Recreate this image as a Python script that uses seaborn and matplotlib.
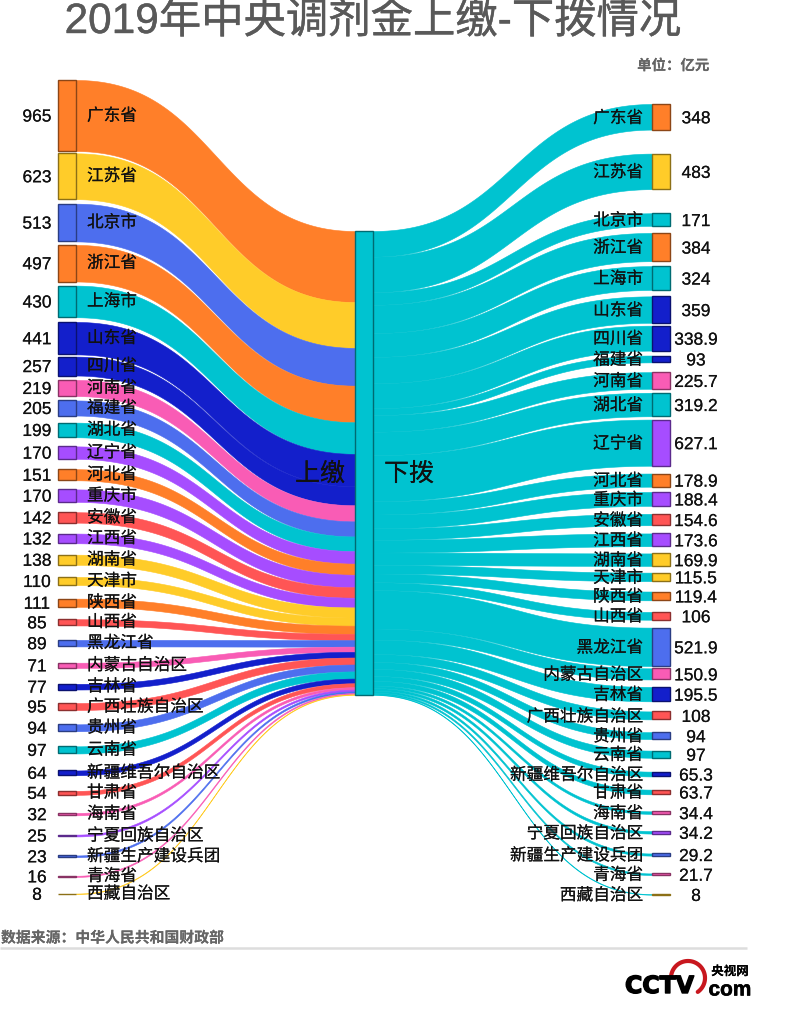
import numpy as np
import matplotlib
matplotlib.use("Agg")
import matplotlib.pyplot as plt
from matplotlib.patches import Rectangle
import matplotlib.patheffects as pe
import seaborn as sns

# 上缴 (left side), values in 亿元
up_names = ["广东省", "江苏省", "北京市", "浙江省", "上海市", "山东省", "四川省", "河南省",
            "福建省", "湖北省", "辽宁省", "河北省", "重庆市", "安徽省", "江西省", "湖南省",
            "天津市", "陕西省", "山西省", "黑龙江省", "内蒙古自治区", "吉林省", "广西壮族自治区", "贵州省",
            "云南省", "新疆维吾尔自治区", "甘肃省", "海南省", "宁夏回族自治区", "新疆生产建设兵团", "青海省", "西藏自治区"]
up_values = [965, 623, 513, 497, 430, 441, 257, 219, 205, 199, 170, 151, 170, 142, 132, 138,
             110, 111, 85, 89, 71, 77, 95, 94, 97, 64, 54, 32, 25, 23, 16, 8]
up_groups = ["orange", "yellow", "blue", "orange", "teal", "navy", "navy", "pink",
             "blue", "teal", "purple", "orange", "purple", "red", "purple", "yellow",
             "yellow", "orange", "red", "blue", "pink", "navy", "red", "blue",
             "teal", "navy", "red", "pink", "purple", "blue", "pink", "yellow"]

# 下拨 (right side), values in 亿元
down_names = ["广东省", "江苏省", "北京市", "浙江省", "上海市", "山东省", "四川省", "福建省",
              "河南省", "湖北省", "辽宁省", "河北省", "重庆市", "安徽省", "江西省", "湖南省",
              "天津市", "陕西省", "山西省", "黑龙江省", "内蒙古自治区", "吉林省", "广西壮族自治区", "贵州省",
              "云南省", "新疆维吾尔自治区", "甘肃省", "海南省", "宁夏回族自治区", "新疆生产建设兵团", "青海省", "西藏自治区"]
down_values = [348, 483, 171, 384, 324, 359, 338.9, 93, 225.7, 319.2, 627.1, 178.9, 188.4, 154.6, 173.6, 169.9,
               115.5, 119.4, 106, 521.9, 150.9, 195.5, 108, 94, 97, 65.3, 63.7, 34.4, 34.2, 29.2, 21.7, 8]
down_groups = ["orange", "yellow", "teal", "orange", "teal", "navy", "navy", "navy",
               "pink", "teal", "purple", "orange", "purple", "red", "purple", "yellow",
               "yellow", "orange", "red", "blue", "pink", "navy", "red", "blue",
               "teal", "navy", "red", "pink", "purple", "blue", "pink", "yellow"]

# layout: blank space in pixels above each node, the stack heights come from the values
up_gaps = [80, 2.3, 4.5, 3.5, 4.1, 4.7, 2.2, 4.4, 4.4, 7.1, 9.1, 10.3, 9.1, 10.3, 10.9, 11.4,
           12.1, 13.6, 12.4, 14.4, 16.3, 15.9, 13.5, 14.3, 15.1, 17, 15.7, 18.1, 19.3, 19, 18.6, 16.6]
down_gaps = [104, 24, 24.1, 7.1, 4.9, 6.4, 2.9, 4.9, 9.8, 4, 3.3, 7.8, 5.3, 8, 8.2, 7.2,
             6.7, 10.4, 11.6, 7.9, 2.3, 7.5, 10.1, 12.8, 11.5, 13.9, 13.2, 17, 17.2, 19.9, 17.8, 19.1]

PX_PER_UNIT = 0.0736
CENTER_TOP = 231
NODE_W = 18
LEFT_X, CENTER_X, RIGHT_X = 58, 355, 652

sns.set_theme(style="white")
plt.rcParams["font.family"] = ["Liberation Sans", "Noto Sans CJK SC"]

group_names = ["orange", "yellow", "blue", "teal", "navy", "pink", "purple", "red"]
palette = dict(zip(group_names, sns.color_palette(
    ["#FF7F29", "#FFCC29", "#4D6EEE", "#00C3D0", "#131FCB", "#F95CB5", "#A64DFF", "#FF5555"])))


def stack_tops(values, gaps):
    heights = np.asarray(values) * PX_PER_UNIT
    tops = np.cumsum(gaps) + np.concatenate([[0], np.cumsum(heights)[:-1]])
    return tops, heights


def draw_link(ax, x0, x1, top0, top1, height, color):
    # cubic bezier with both control points on the middle x, thickness kept vertical
    t = np.linspace(0, 1, 200)
    xm = (x0 + x1) / 2
    x = (1 - t) ** 3 * x0 + 3 * (1 - t) ** 2 * t * xm + 3 * (1 - t) * t ** 2 * xm + t ** 3 * x1
    y = (1 - t) ** 3 * top0 + 3 * (1 - t) ** 2 * t * top0 + 3 * (1 - t) * t ** 2 * top1 + t ** 3 * top1
    ax.fill_between(x, y, y + height, color=color, linewidth=0.4, zorder=2)


def draw_node(ax, x, top, height, color):
    edge = tuple(c * 0.55 for c in color)
    ax.add_patch(Rectangle((x, top), NODE_W, height, facecolor=color,
                           edgecolor=edge, linewidth=1, zorder=3))


def label(ax, x, y, s, ha="center", size=12, color="#111111", stroke=0.1, **kwargs):
    txt = ax.text(x, y, s, ha=ha, va="center", fontsize=size, color=color, zorder=5, **kwargs)
    txt.set_path_effects([pe.withStroke(linewidth=stroke, foreground=color)])
    return txt


fig = plt.figure(figsize=(8, 10.25), dpi=100, facecolor="white")
ax = fig.add_axes([0, 0, 1, 1])
ax.set_xlim(0, 800)
ax.set_ylim(1025, 0)
ax.axis("off")

up_tops, up_heights = stack_tops(up_values, up_gaps)
down_tops, down_heights = stack_tops(down_values, down_gaps)
center_up = CENTER_TOP + np.concatenate([[0], np.cumsum(up_heights)[:-1]])
center_down = CENTER_TOP + np.concatenate([[0], np.cumsum(down_heights)[:-1]])

for i in range(len(up_values)):
    color = palette[up_groups[i]]
    draw_link(ax, LEFT_X + NODE_W, CENTER_X, up_tops[i], center_up[i], up_heights[i], color)
    draw_node(ax, LEFT_X, up_tops[i], up_heights[i], color)
    mid = up_tops[i] + up_heights[i] / 2
    label(ax, 37, mid + 1.5, str(up_values[i]), size=12.5)
    label(ax, 87, mid, up_names[i], ha="left")

for i in range(len(down_values)):
    color = palette[down_groups[i]]
    draw_link(ax, CENTER_X + NODE_W, RIGHT_X, center_down[i], down_tops[i], down_heights[i], palette["teal"])
    draw_node(ax, RIGHT_X, down_tops[i], down_heights[i], color)
    mid = down_tops[i] + down_heights[i] / 2
    label(ax, 696, mid + 2, f"{down_values[i]:g}", size=12.5)
    label(ax, 643, mid + 1, down_names[i], ha="right")

draw_node(ax, CENTER_X, CENTER_TOP, sum(up_values) * PX_PER_UNIT, palette["teal"])
label(ax, 320, 474, "上缴", size=18)
label(ax, 409, 474, "下拨", size=18)

label(ax, 373, 22, "2019年中央调剂金上缴-下拨情况", size=30.5, color="#595959", stroke=0.3)
label(ax, 709, 66, "单位：亿元", ha="right", size=10.4, color="#666666", stroke=0, fontweight="bold")
label(ax, 1, 938, "数据来源：中华人民共和国财政部", ha="left", size=10.7, color="#666666", stroke=0, fontweight="bold")
ax.plot([0, 747], [948, 948], color="#DDDDDD", linewidth=1.8, solid_capstyle="butt")

# cctv logo
ang = np.radians(np.linspace(-55, 175, 80))
ax.plot(688 + 17 * np.cos(ang), 978 - 17 * np.sin(ang), color="#C8171E", linewidth=3, solid_capstyle="round")
label(ax, 625, 986, "CCTV", ha="left", size=17, color="black", stroke=1, fontweight="bold", family="DejaVu Sans")
label(ax, 730, 972, "央视网", size=9, color="black", stroke=0, fontweight="bold")
label(ax, 730, 990, "com", size=15, color="black", stroke=0.4, fontweight="bold")

fig.savefig("out.png", dpi=100)
